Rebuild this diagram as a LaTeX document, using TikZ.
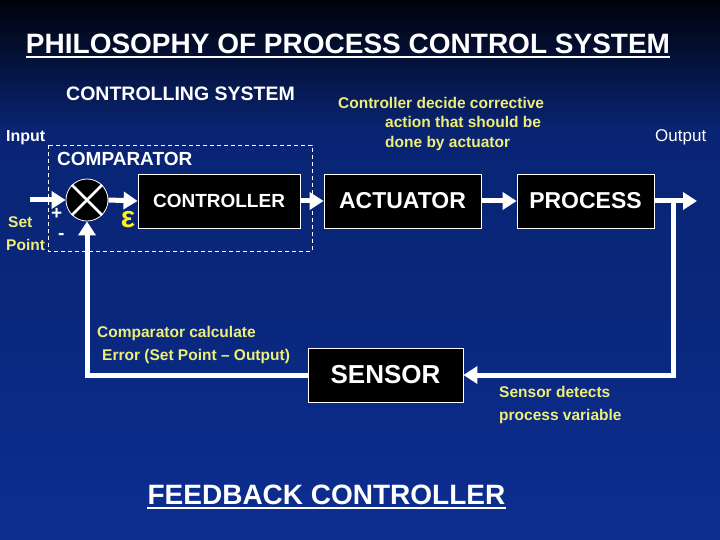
\documentclass[tikz,border=0pt]{standalone}
\usepackage{fontspec}
\setmainfont{Liberation Sans}
\usepackage{xcolor}
\usetikzlibrary{arrows.meta,positioning}

\definecolor{bgtop}{RGB}{0,2,10}
\definecolor{bgmid}{RGB}{9,36,115}
\definecolor{bgbot}{RGB}{12,46,145}
\definecolor{note}{RGB}{238,238,120}
\pgfdeclareverticalshading{slide}{100bp}{color(0bp)=(bgbot); color(25bp)=(bgbot); color(47bp)=(bgmid!70!bgbot); color(63bp)=(bgmid); color(75bp)=(bgtop); color(100bp)=(bgtop)}
\newcommand{\fsz}[1]{\fontsize{#1}{#1}\selectfont}

\tikzset{
  block/.style={draw=white, fill=black, line width=0.8pt, text=white, font=\bfseries, minimum height=54pt, inner sep=0pt},
  flow/.style={draw=white, line width=5pt, -{Triangle[length=14pt,width=17pt]}},
  remark/.style={text=note, font=\bfseries\fsz{15.5}, inner sep=0pt, anchor=base west},
  heading/.style={text=white, inner sep=0pt, anchor=base west}
}

\begin{document}
\begin{tikzpicture}[x=1pt,y=-1pt]
  \shade[shading=slide] (0,0) rectangle (720,540);
  \useasboundingbox (0,0) rectangle (720,540);

  % titles
  \node[heading, anchor=base, font=\bfseries\fsz{28}] (title) at (348,54) {PHILOSOPHY OF PROCESS CONTROL SYSTEM};
  \draw[white, line width=2pt] ([yshift=-3.5pt]title.base west) -- ([yshift=-3.5pt]title.base east);
  \node[heading, font=\bfseries\fsz{19.5}] (ctrlsys) at (66,101) {CONTROLLING SYSTEM};
  \node[heading, font=\bfseries\fsz{16}] (input) at (6,142) {Input};
  \node[heading, font=\fsz{17}] (output) at (655,142) {Output};

  % comparator region
  \draw[white, dashed, line width=0.8pt, dash pattern=on 4pt off 3pt] (48,145) rectangle (312,251);
  \node[heading, font=\bfseries\fsz{19}] (cmptitle) at (57,166) {COMPARATOR};
  \node[circle, draw=white, fill=black, line width=0.8pt, minimum size=42pt, inner sep=0pt] (comp) at (87,200) {};
  \draw[white, line width=2.5pt] (comp.north west) -- (comp.south east);
  \draw[white, line width=2.5pt] (comp.north east) -- (comp.south west);
  \node[heading, font=\bfseries\fsz{19}] (plus) at (51,220) {+};
  \node[heading, font=\bfseries\fsz{19}] (minus) at (58,240) {-};
  \node[heading, text=note, font=\bfseries\fsz{15.5}] (set) at (8,228) {Set};
  \node[heading, text=note, font=\bfseries\fsz{15.5}] (point) at (6,251) {Point};
  \node[text=yellow!90!white, font=\bfseries\fsz{30}, inner sep=0pt] (eps) at (128,220) {ε};

  % blocks
  \node[block, minimum width=162pt, font=\bfseries\fsz{19}] (controller) at (219,201) {CONTROLLER};
  \node[block, minimum width=157pt, font=\bfseries\fsz{23}] (actuator) at (402.5,201) {ACTUATOR};
  \node[block, minimum width=137pt, font=\bfseries\fsz{23}] (process) at (585.5,201) {PROCESS};
  \node[block, minimum width=155pt, font=\bfseries\fsz{26}] (sensor) at (385.5,375) {SENSOR};

  \coordinate (setin) at (30,200);
  \coordinate (outend) at (697,201);
  \coordinate (tap) at (673,201);

  % connectors
  \draw[flow] (setin) -- (comp.west);
  \draw[flow] (comp.east) -- (controller.west);
  \draw[flow] (controller.east) -- (actuator.west);
  \draw[flow] (actuator.east) -- (process.west);
  \draw[flow] (process.east) -- (outend);
  \draw[flow] (tap) |- (sensor.east);
  \draw[flow] (sensor.west) -| (comp.south);

  % notes
  \node[remark] (dec1) at (338,109) {Controller decide corrective};
  \node[remark] (dec2) at (385,128) {action that should be};
  \node[remark] (dec3) at (385,148) {done by actuator};
  \node[remark] (cal1) at (97,337) {Comparator calculate};
  \node[remark] (cal2) at (102,360) {Error (Set Point – Output)};
  \node[remark] (det1) at (499,397) {Sensor detects};
  \node[remark] (det2) at (499,420) {process variable};

  \node[heading, anchor=base, font=\bfseries\fsz{28}] (feedback) at (326.5,504) {FEEDBACK CONTROLLER};
  \draw[white, line width=2pt] ([yshift=-3.5pt]feedback.base west) -- ([yshift=-3.5pt]feedback.base east);
\end{tikzpicture}
\end{document}
